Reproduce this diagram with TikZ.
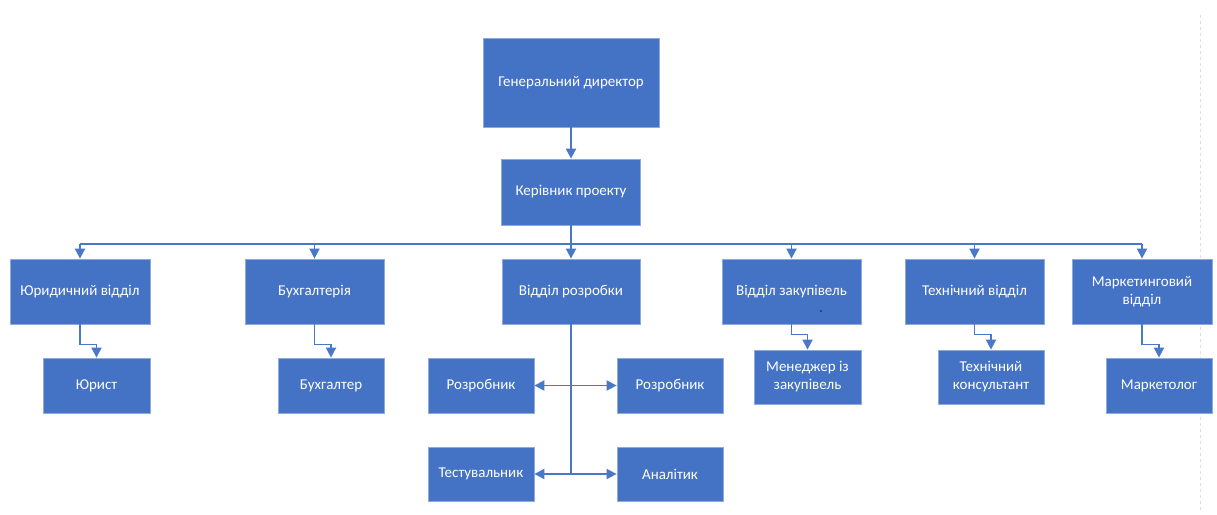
\documentclass[tikz,border=0pt]{standalone}
\usepackage{fontspec}
\setmainfont{Carlito}
\usetikzlibrary{arrows.meta}
\definecolor{boxblue}{HTML}{4472C4}
\definecolor{edgeblue}{HTML}{8FAADC}
\definecolor{linkblue}{HTML}{4A78C8}
\tikzset{
  box/.style={rectangle, fill=boxblue, draw=edgeblue, line width=0.8pt,
    inner sep=0pt, text=white, align=center, font=\fontsize{15}{18}\selectfont},
  link/.style={draw=linkblue, line width=1.8pt,
    -{Triangle[width=10pt,length=10pt]}},
  both/.style={draw=linkblue, line width=1.8pt,
    {Triangle[width=10pt,length=10pt]}-{Triangle[width=10pt,length=10pt]}},
  plain/.style={draw=linkblue, line width=1.8pt},
}
\begin{document}
\begin{tikzpicture}[x=1pt,y=-1pt]
\useasboundingbox (0,0) rectangle (1217,514);
\fill[white] (0,0) rectangle (1217,514);

% page edge marker
\draw[gray!25, line width=1pt, dashed] (1200,15) -- (1200,512);

% top management
\node[box, minimum width=176, minimum height=89] (gen) at (571,82.5) {Генеральний директор};
\node[box, minimum width=139, minimum height=66] (ker) at (571,192) {Керівник проекту};

% departments
\node[box, minimum width=140, minimum height=65] (jur) at (80,291.5) {Юридичний відділ};
\node[box, minimum width=139, minimum height=65] (buh) at (314.5,291.5) {Бухгалтерія};
\node[box, minimum width=138, minimum height=65] (dev) at (571,291.5) {Відділ розробки};
\node[box, minimum width=139, minimum height=65] (zak) at (791.5,291.5) {Відділ закупівель};
\node[box, minimum width=139, minimum height=65] (teh) at (974.5,291.5) {Технічний відділ};
\node[box, minimum width=140, minimum height=65] (mar) at (1142,291.5) {Маркетинговий\\відділ};

% staff
\node[box, minimum width=107, minimum height=55] (jurist) at (96.5,385.5) {Юрист};
\node[box, minimum width=106, minimum height=55] (buhg) at (331,385.5) {Бухгалтер};
\node[box, minimum width=107, minimum height=54] (men) at (807.5,377) {Менеджер із\\закупівель};
\node[box, minimum width=106, minimum height=54] (tk) at (991,377) {Технічний\\консультант};
\node[box, minimum width=106, minimum height=55] (mk) at (1159,385.5) {Маркетолог};

% development team
\node[box, minimum width=106, minimum height=55] (dl) at (481,385.5) {Розробник};
\node[box, minimum width=106, minimum height=55] (dr) at (670,385.5) {Розробник};
\node[box, minimum width=106, minimum height=54] (test) at (481,474) {Тестувальник};
\node[box, minimum width=106, minimum height=54] (anal) at (670,474) {Аналітик};

% management chain
\draw[link] (gen.south) -- (ker.north);
\coordinate (bus) at (571,244);
\draw[plain] (ker.south) -- (bus);
\draw[plain] (jur.north |- bus) -- (mar.north |- bus);
\foreach \d in {jur,buh,dev,zak,teh,mar}
  \draw[link] (\d.north |- bus) -- (\d.north);

% department to staff
\draw[link] (jur.south) -- ++(0,20) -| (jurist.north);
\draw[link] (buh.south) -- ++(0,20) -| (buhg.north);
\draw[link] (zak.south) -- ++(0,10) -| (men.north);
\draw[link] (teh.south) -- ++(0,10) -| (tk.north);
\draw[link] (mar.south) -- ++(0,20) -| (mk.north);

% development trunk
\coordinate (trunk) at (571,474);
\draw[plain] (dev.south) -- (trunk);
\draw[both] (dl.east) -- (dr.west);
\draw[both] (test.east) -- (anal.west);

% stray mark
\fill[blue!80!black] (821,311) circle (0.8);
\end{tikzpicture}
\end{document}
